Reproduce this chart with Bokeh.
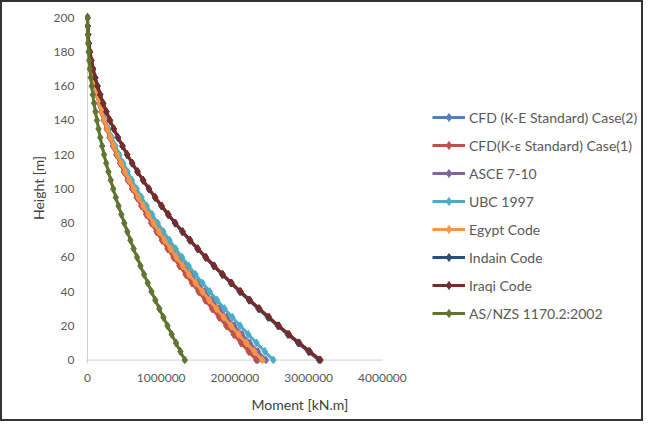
import numpy as np
from bokeh.plotting import figure
from bokeh.models import (Range1d, FixedTicker, NumeralTickFormatter, Span,
                          Legend, LegendItem, ColumnDataSource, Title)
from bokeh.embed import file_html
from bokeh.resources import INLINE

# Heights along the building (m)
heights = [0, 5, 10, 15, 20, 25, 30, 35, 40, 45, 50, 55, 60, 65, 70, 75, 80,
           85, 90, 95, 100, 105, 110, 115, 120, 125, 130, 135, 140, 145, 150,
           155, 160, 165, 170, 175, 180, 185, 190, 195, 200]

# Moment values, in thousands of kN.m
cfd_case2 = [2310, 2205, 2101, 1999, 1899, 1800, 1704, 1610, 1519, 1429, 1342,
             1258, 1176, 1096, 1019, 944, 872, 803, 737, 673, 611, 553, 497,
             445, 395, 348, 303, 262, 224, 188, 156, 127, 100, 77, 57, 39, 25,
             14, 6, 2, 0]
cfd_case1 = [2290, 2186, 2083, 1982, 1882, 1785, 1690, 1597, 1506, 1417, 1331,
             1247, 1166, 1087, 1010, 936, 865, 796, 730, 667, 606, 548, 493,
             441, 391, 345, 301, 260, 222, 187, 155, 126, 99, 76, 56, 39, 25,
             14, 6, 2, 0]
asce_7_10 = [2420, 2310, 2201, 2094, 1989, 1886, 1786, 1687, 1591, 1497, 1406,
             1318, 1232, 1148, 1067, 989, 914, 841, 772, 705, 641, 579, 521,
             466, 413, 364, 318, 275, 235, 197, 163, 133, 105, 81, 59, 41, 26,
             15, 7, 2, 0]
ubc_1997 = [2520, 2405, 2292, 2181, 2071, 1964, 1859, 1757, 1657, 1559, 1464,
            1372, 1283, 1196, 1112, 1030, 952, 876, 803, 734, 667, 603, 543,
            485, 430, 379, 331, 286, 244, 206, 170, 138, 109, 84, 62, 43, 28,
            16, 7, 2, 0]
egypt_code = [2370, 2262, 2155, 2051, 1948, 1847, 1749, 1652, 1558, 1467, 1377,
              1291, 1206, 1125, 1045, 969, 895, 824, 756, 690, 627, 567, 510,
              456, 405, 357, 311, 269, 230, 193, 160, 130, 103, 79, 58, 40, 26,
              15, 6, 2, 0]
indian_code = [3140, 2997, 2856, 2717, 2581, 2447, 2317, 2189, 2064, 1943, 1825,
               1710, 1598, 1490, 1385, 1284, 1186, 1092, 1001, 914, 831, 752,
               676, 604, 536, 473, 412, 356, 304, 256, 212, 172, 136, 105, 77,
               54, 34, 19, 9, 2, 0]
iraqi_code = [3160, 3016, 2874, 2734, 2597, 2463, 2332, 2203, 2078, 1955, 1836,
              1721, 1608, 1499, 1394, 1292, 1193, 1099, 1008, 920, 836, 757,
              681, 608, 540, 476, 415, 359, 306, 258, 213, 173, 137, 105, 77,
              54, 35, 19, 9, 2, 0]
as_nzs = [1320, 1260, 1201, 1142, 1085, 1029, 974, 920, 868, 817, 767, 719,
          672, 626, 582, 540, 499, 459, 421, 384, 349, 316, 284, 254, 225, 199,
          173, 150, 128, 108, 89, 72, 57, 44, 32, 23, 14, 8, 4, 1, 0]

series_names = ["CFD (K-E Standard) Case(2)", "CFD(K-\u03b5 Standard) Case(1)",
                "ASCE 7-10", "UBC 1997", "Egypt Code", "Indain Code",
                "Iraqi Code", "AS/NZS 1170.2:2002"]
series_values = [cfd_case2, cfd_case1, asce_7_10, ubc_1997, egypt_code,
                 indian_code, iraqi_code, as_nzs]
series_colors = ["#4F81BD", "#C0504D", "#8064A2", "#4BACC6", "#F79646",
                 "#2C4D75", "#772C2A", "#5F7530"]

x_ticks = [0, 1000000, 2000000, 3000000, 4000000]
y_ticks = [0, 20, 40, 60, 80, 100, 120, 140, 160, 180, 200]

FONT = "Lato"
X_START = -27000

p = figure(width=643, height=421, output_backend="svg", toolbar_location=None,
           x_range=Range1d(X_START, 7500000), y_range=Range1d(-2, 203),
           min_border_left=83, min_border_right=5, min_border_top=10,
           min_border_bottom=60)
p.styles = {"border": "2px solid #333333"}
p.outline_line_color = None
p.xgrid.visible = False
p.ygrid.visible = False

# axis lines (Excel style, light gray)
p.segment(x0=[X_START], y0=[0], x1=[x_ticks[-1]], y1=[0],
          line_color="#D0D0D0", line_width=1, level="underlay")
p.add_layout(Span(location=0, dimension="height", line_color="#D0D0D0",
                  line_width=1, level="underlay"))

items = []
for name, vals, col in zip(series_names, series_values, series_colors):
    src = ColumnDataSource(dict(x=np.array(vals, dtype=float) * 1000.0,
                                y=heights))
    ln = p.line("x", "y", source=src, line_color=col, line_width=3)
    sc = p.scatter("x", "y", source=src, marker="diamond", size=8,
                   fill_color=col, line_color=col)
    items.append(LegendItem(label=name, renderers=[ln, sc]))

for ax in (p.xaxis[0], p.yaxis[0]):
    ax.axis_line_color = None
    ax.major_tick_line_color = None
    ax.minor_tick_line_color = None
    ax.major_label_text_font = FONT
    ax.major_label_text_color = "#595959"
    ax.axis_label_text_font = FONT
    ax.axis_label_text_font_style = "normal"
    ax.axis_label_text_color = "#404040"
    ax.axis_label_text_font_size = "14px"

p.xaxis.ticker = FixedTicker(ticks=x_ticks)
p.xaxis.formatter = NumeralTickFormatter(format="0")
p.xaxis.major_label_text_font_size = "12px"
p.xaxis.major_label_standoff = 4

p.yaxis.ticker = FixedTicker(ticks=y_ticks)
p.yaxis.major_label_text_font_size = "12px"
p.yaxis.major_label_standoff = 5
p.yaxis.axis_label = "Height [m]"
p.yaxis.axis_label_standoff = 4

# x-axis title, low under the left part of the frame (as in the Excel chart)
x_title = Title(text="Moment [kN.m]", align="left", offset=166, standoff=18,
                vertical_align="bottom",
                text_font=FONT, text_font_size="14px",
                text_font_style="normal", text_color="#404040")
p.add_layout(x_title, "below")

legend = Legend(items=items, location=(347, 40), orientation="vertical",
                glyph_width=33, glyph_height=20, label_height=20, spacing=8,
                label_standoff=4, padding=0, margin=0,
                label_text_font=FONT, label_text_font_size="14px",
                label_text_color="#595959", border_line_color=None,
                background_fill_alpha=0)
p.add_layout(legend, "center")

open("out.html", "w").write(file_html(p, INLINE))
